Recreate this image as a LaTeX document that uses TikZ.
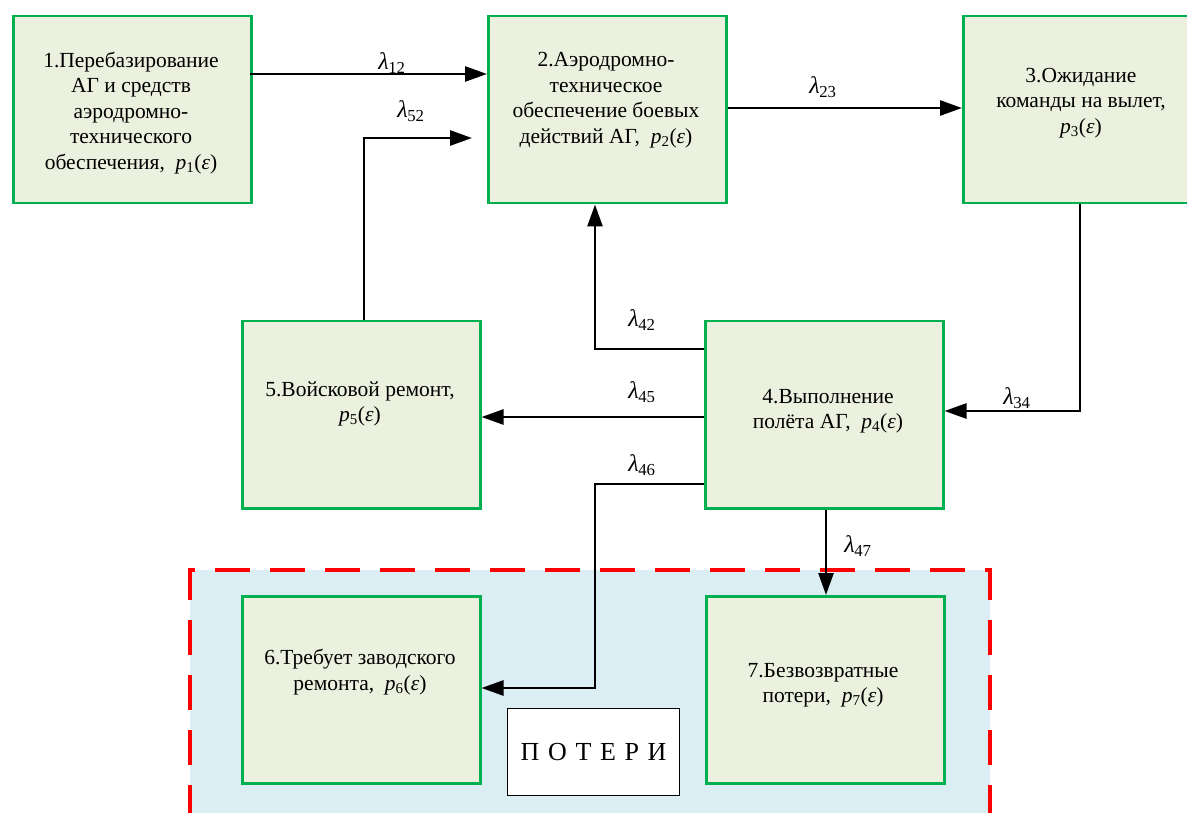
\documentclass[tikz,border=0pt]{standalone}
\usepackage{fontspec}
\setmainfont{Liberation Serif}
\usetikzlibrary{arrows.meta,calc}
\definecolor{boxgreen}{HTML}{00B050}
\definecolor{boxfill}{HTML}{EBF1DE}
\definecolor{lossbg}{HTML}{DAEEF3}
\definecolor{lossred}{HTML}{FF0000}
\newcommand{\pe}[1]{\textit{p}\textsubscript{#1}(\textit{ε})}
\newcommand{\lm}[1]{\textit{λ}\kern-0.5pt\textsubscript{#1}}
\begin{document}
\begin{tikzpicture}[x=1pt,y=-1pt,
  box/.style={draw=boxgreen, fill=boxfill, line width=2.5pt, minimum width=238pt, minimum height=187pt, inner sep=0pt, anchor=north west},
  txt/.style={align=center, font=\fontsize{21.5}{25.5}\selectfont},
  lam/.style={font=\fontsize{24}{26}\selectfont, inner sep=0pt},
  conn/.style={line width=2.6pt, -{Triangle[length=22pt,width=15pt]}},
  lossbox/.style={draw=black, fill=white, line width=1.2pt, minimum width=172pt, minimum height=87pt, inner sep=0pt, anchor=north west, font=\fontsize{26}{30}\selectfont},
  reddash/.style={draw=lossred, line width=4pt, dash pattern=on 35pt off 20pt}]
\useasboundingbox (0,0) rectangle (1187,813);
% loss area
\fill[lossbg] (190,570) rectangle (990,820);
\draw[reddash] (190,820) -- (190,570) -- (990,570) -- (990,820);
% boxes
\node[box] (b1) at (12,15) {};
\node[box] (b2) at (487,15) {};
\node[box] (b3) at (962,15) {};
\node[box] (b5) at (241,320) {};
\node[box] (b4) at (704,320) {};
\node[box] (b6) at (241,595) {};
\node[box] (b7) at (705,595) {};
\node[lossbox] (loss) at (507,708) {П\,\,О\,\,Т\,\,Е\,\,Р\,\,И};
% texts
\node[txt] (t1) at (131,113) {1.Перебазирование\\АГ и средств\\аэродромно-\\технического\\обеспечения,\ \ \pe{1}};
\node[txt] (t2) at (606,100) {2.Аэродромно-\\техническое\\обеспечение боевых\\действий АГ,\ \ \pe{2}};
\node[txt] (t3) at (1081,103) {3.Ожидание\\команды на вылет,\\\pe{3}};
\node[txt] (t4) at (828,411) {4.Выполнение\\полёта АГ,\ \ \pe{4}};
\node[txt] (t5) at (360,404) {5.Войсковой ремонт,\\\pe{5}};
\node[txt] (t6) at (360,672) {6.Требует заводского\\ремонта,\ \ \pe{6}};
\node[txt] (t7) at (823,685) {7.Безвозвратные\\потери,\ \ \pe{7}};
% connectors
\coordinate (k46) at (595,484);
\draw[conn] ($(b1.north west)+(238,59)$) -- ($(b2.north west)+(0,59)$);
\draw[conn] ($(b5.north west)+(123,0)$) |- ($(b2.north west)+(-15,123)$);
\draw[conn] ($(b2.north east)+(0,93)$) -- ($(b3.north west)+(0,93)$);
\draw[conn] ($(b3.south west)+(118,0)$) |- ($(b4.north east)+(0,91)$);
\draw[conn] ($(b4.north west)+(0,29)$) -| ($(b2.south west)+(108,0)$);
\draw[conn] ($(b4.north west)+(0,97)$) -- ($(b5.north east)+(0,97)$);
\draw[conn] ($(b4.north west)+(0,164)$) -- (k46) |- ($(b6.north east)+(0,93)$);
\draw[conn] ($(b4.south west)+(122,0)$) -- ($(b7.north west)+(121,0)$);
% labels
\node[lam] (l12) at (392,63) {\lm{12}};
\node[lam] (l52) at (411,111) {\lm{52}};
\node[lam] (l23) at (823,87) {\lm{23}};
\node[lam] (l34) at (1017,398) {\lm{34}};
\node[lam] (l42) at (642,320) {\lm{42}};
\node[lam] (l45) at (642,392) {\lm{45}};
\node[lam] (l46) at (642,465) {\lm{46}};
\node[lam] (l47) at (858,546) {\lm{47}};
\end{tikzpicture}
\end{document}
